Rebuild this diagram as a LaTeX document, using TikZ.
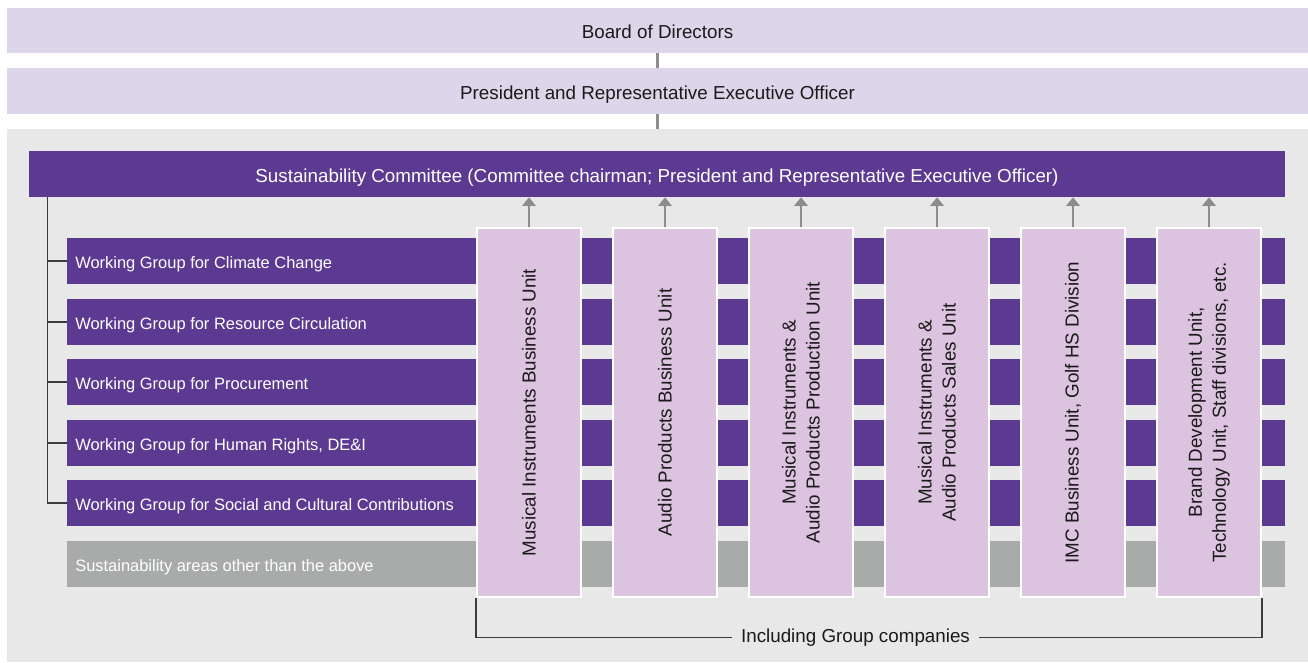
\documentclass[tikz,border=0pt]{standalone}
\usepackage{fontspec}
\setmainfont{Liberation Sans}
\usetikzlibrary{arrows.meta,fit,calc}
\definecolor{lav}{HTML}{DDD5EA}
\definecolor{bgc}{HTML}{E8E8E8}
\definecolor{purp}{HTML}{5C3A92}
\definecolor{colf}{HTML}{DCC3DF}
\definecolor{grbar}{HTML}{A9AAAA}
\definecolor{arrc}{HTML}{8C8C8C}
\definecolor{brkc}{HTML}{3C3C3C}
\definecolor{txt}{HTML}{1A1A1A}
\newcommand{\bigtxt}{\fontsize{14.1}{18}\selectfont}
\newcommand{\smtxt}{\fontsize{12.35}{14}\selectfont}
\begin{document}
\begin{tikzpicture}[x=0.75pt,y=-0.75pt,
  topbar/.style={fill=lav, inner sep=0pt, text=txt, font=\bigtxt},
  area/.style={fill=bgc, inner sep=0pt},
  commbar/.style={fill=purp, inner sep=0pt, text=white, font=\bigtxt},
  wgbar/.style={fill=purp, anchor=west, text=white, font=\smtxt, align=left,
     minimum height={46*0.75pt}, text width={(1218-16)*0.75pt}, inner xsep={8*0.75pt}, inner ysep=0pt},
  wglabel/.style={anchor=west, text=white, font=\smtxt, inner sep=0pt, yshift=-2.4pt},
  otherbar/.style={wgbar, fill=grbar},
  unitcol/.style={fill=colf, draw=white, line width=1.5pt, inner sep=0pt,
     minimum width={104*0.75pt}, minimum height={369*0.75pt}},
  coltext/.style={rotate=90, align=center, text=txt, font=\bigtxt, inner sep=0pt},
  conn/.style={draw=arrc, line width=1.8pt},
  uparrow/.style={draw=arrc, line width=2.1pt, -{Triangle[length=6.5pt,width=10pt]}},
  brk/.style={draw=brkc, line width=1.1pt},
  incl/.style={fill=bgc, text=txt, font=\bigtxt, inner xsep={9*0.75pt}, inner ysep=2pt}
]
\useasboundingbox (0,0) rectangle (1308,662);
\fill[white] (0,0) rectangle (1308,662);

\node[topbar, fit={(7,8) (1308,53)}] (board) {};
\node[text=txt, font=\bigtxt, yshift=-1.3pt] at (board.center) {Board of Directors};
\node[topbar, fit={(7,68) (1308,114)}] (pres) {};
\node[text=txt, font=\bigtxt, yshift=-2.4pt] at (pres.center) {President and Representative Executive Officer};
\node[area, fit={(7,129) (1308,662)}] (area) {};

\draw[conn] (board.south) -- (pres.north);
\draw[conn] (pres.south) -- (pres.south |- area.north);

\node[commbar, fit={(29,151) (1285,197)}] (comm) {};
\node[text=white, font=\bigtxt, yshift=-3pt] at (comm.center) {Sustainability Committee (Committee chairman; President and Representative Executive Officer)};

\node[wgbar] (wg1) at (67,261) {};
\node[wgbar] (wg2) at (67,322) {};
\node[wgbar] (wg3) at (67,382) {};
\node[wgbar] (wg4) at (67,443) {};
\node[wgbar] (wg5) at (67,503) {};
\node[otherbar] (oth) at (67,564) {};
\node[wglabel] at ($(wg1.west)+(8,0)$) {Working Group for Climate Change};
\node[wglabel] at ($(wg2.west)+(8,0)$) {Working Group for Resource Circulation};
\node[wglabel] at ($(wg3.west)+(8,0)$) {Working Group for Procurement};
\node[wglabel] at ($(wg4.west)+(8,0)$) {Working Group for Human Rights, DE\&I};
\node[wglabel] at ($(wg5.west)+(8,0)$) {Working Group for Social and Cultural Contributions};
\node[wglabel] at ($(oth.west)+(8,0)$) {Sustainability areas other than the above};

\coordinate (ltop) at ($(comm.south west)+(19,0)$);
\draw[brk] (ltop) |- (wg5.west);
\foreach \i in {1,2,3,4}{\draw[brk] (wg\i.west) -- ++(-19,0);}

\node[incl, yshift=-2pt] (inc) at (855.5,635) {Including Group companies};

\node[unitcol] (c1) at (529,412.5) {};
\node[unitcol] (c2) at (665,412.5) {};
\node[unitcol] (c3) at (801,412.5) {};
\node[unitcol] (c4) at (937,412.5) {};
\node[unitcol] (c5) at (1073,412.5) {};
\node[unitcol] (c6) at (1209,412.5) {};

\draw[brk] (c1.south west) |- (inc.west);
\draw[brk] (c6.south east) |- (inc.east);
\node[unitcol] at (c1) {};
\node[unitcol] at (c6) {};

\node[coltext] at (c1.center) {Musical Instruments Business Unit};
\node[coltext] at (c2.center) {Audio Products Business Unit};
\node[coltext] at (c3.center) {Musical Instruments \&\\Audio Products Production Unit};
\node[coltext] at (c4.center) {Musical Instruments \&\\Audio Products Sales Unit};
\node[coltext] at (c5.center) {IMC Business Unit, Golf HS Division};
\node[coltext] at (c6.center) {Brand Development Unit,\\Technology Unit, Staff divisions, etc.};

\foreach \i in {1,...,6}{\draw[uparrow] (c\i.north) -- (c\i.north |- comm.south);}
\end{tikzpicture}
\end{document}
